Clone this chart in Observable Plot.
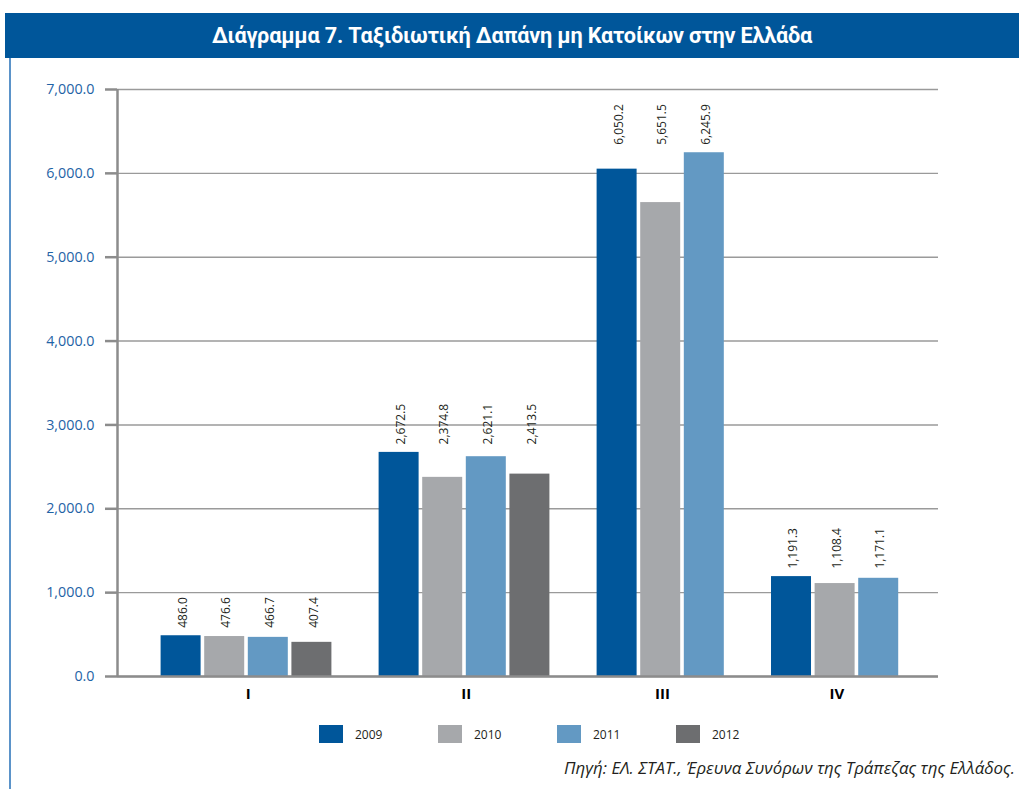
<!DOCTYPE html>
<html>
<head>
<meta charset="utf-8">
<script src="https://cdn.jsdelivr.net/npm/d3@7"></script>
<script src="https://cdn.jsdelivr.net/npm/@observablehq/plot@0.6"></script>
<style>
  html, body { margin: 0; padding: 0; background: #fff; }
  body { width: 1019px; height: 789px; position: relative; overflow: hidden; font-family: "Open Sans", sans-serif; }
  #title { position: absolute; left: 5px; top: 13px; width: 1014px; height: 45px; background: #00569a; color: #fff;
           font-family: "Roboto", sans-serif; font-weight: 700; font-size: 21.7px; line-height: 45px; text-align: center; letter-spacing: -0.2px; }
  #leftline { position: absolute; left: 9px; top: 58px; width: 2px; height: 731px; background: #5b93c9; }
  #chart { position: absolute; left: 0; top: 70px; }
  #legend { position: absolute; top: 725px; left: 319px; display: flex; font-size: 12px; color: #231f20; }
  .item { display: flex; align-items: center; width: 119px; }
  .sw { width: 24px; height: 18px; margin-right: 12px; }
  #source { position: absolute; right: 4px; top: 756px; font-style: italic; font-size: 16.9px; color: #231f20; }
</style>
</head>
<body>
<div id="title">Διάγραμμα 7. Ταξιδιωτική Δαπάνη μη Κατοίκων στην Ελλάδα</div>
<div id="leftline"></div>
<div id="chart"></div>
<div id="legend"></div>
<div id="source">Πηγή: ΕΛ. ΣΤΑΤ., Έρευνα Συνόρων της Τράπεζας της Ελλάδος.</div>
<script>
const quarters = ["I", "II", "III", "IV"];
const years = ["2009", "2010", "2011", "2012"];
const values2009 = [486.0, 2672.5, 6050.2, 1191.3];
const values2010 = [476.6, 2374.8, 5651.5, 1108.4];
const values2011 = [466.7, 2621.1, 6245.9, 1171.1];
const values2012 = [407.4, 2413.5, null, null];
const yTicks = [0, 1000, 2000, 3000, 4000, 5000, 6000, 7000];
const colors = ["#00569a", "#a6a8ab", "#6399c3", "#6d6e70"];

const series = [values2009, values2010, values2011, values2012];
const rows = [];
const groups = [];
let slot = 1;
quarters.forEach((q, qi) => {
  const start = slot;
  const vals = series.map(s => s[qi]).filter(v => v != null);
  const groupMax = d3.max(vals);
  years.forEach((y, yi) => {
    const v = series[yi][qi];
    if (v == null) return;
    rows.push({quarter: q, year: y, value: v, slot, groupMax});
    slot++;
  });
  groups.push({quarter: q, center: (start + slot) / 2});
  slot++;
});
const nSlots = slot;

const fmt = d3.format(",.1f");

const plot = Plot.plot({
  width: 1019,
  height: 640,
  marginLeft: 117,
  marginRight: 81,
  marginTop: 19,
  marginBottom: 34,
  style: {fontFamily: "Open Sans, sans-serif", background: "transparent"},
  x: {domain: [0, nSlots - 0.17], axis: null},
  y: {domain: [0, 7000]},
  color: {domain: years, range: colors},
  marks: [
    Plot.gridY(yTicks, {stroke: "#9a9a9a", strokeOpacity: 1, strokeWidth: 1.4}),
    Plot.axisY(yTicks, {tickFormat: fmt, tickSize: 12, tickPadding: 11, stroke: "#8c8c8c", strokeWidth: 2.5,
      fill: "#1f63a6", fontSize: 14.3, label: null}),
    Plot.rectY(rows, {x1: "slot", x2: d => d.slot + 1, y: "value", fill: "year", insetRight: 3.6}),
    Plot.ruleX([0], {y1: 0, y2: 7000, stroke: "#8c8c8c", strokeWidth: 2.5}),
    Plot.ruleY([0], {stroke: "#8c8c8c", strokeWidth: 2.5}),
    Plot.text(rows, {x: d => d.slot + 0.5, y: "groupMax", text: d => fmt(d.value), rotate: -90,
      textAnchor: "start", dy: -8, fontSize: 12, fill: "#231f20"}),
    Plot.text(groups, {x: "center", y: 0, text: "quarter", dy: 18, fontWeight: 700, fontSize: 15, fill: "#000"})
  ]
});
document.getElementById("chart").appendChild(plot);

const legend = document.getElementById("legend");
years.forEach((y, i) => {
  const it = document.createElement("div");
  it.className = "item";
  it.innerHTML = `<div class="sw" style="background:${colors[i]}"></div><span>${y}</span>`;
  legend.appendChild(it);
});
</script>
</body>
</html>
